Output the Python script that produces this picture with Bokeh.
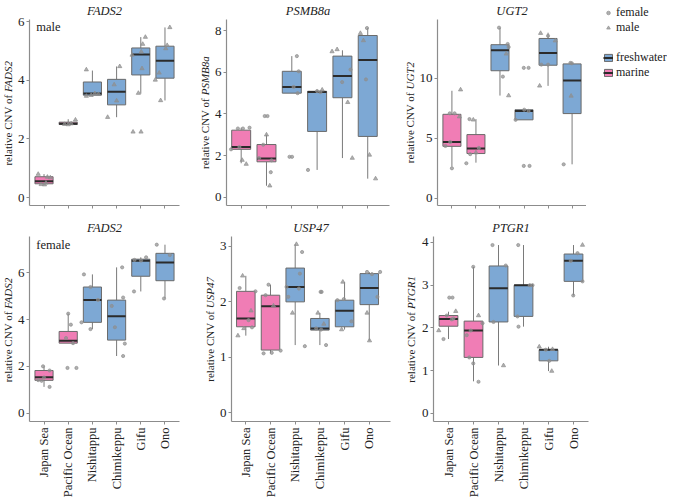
from math import pi
from bokeh.plotting import figure
from bokeh.models import ColumnDataSource, FixedTicker, Label, Legend, LegendItem, Range1d
from bokeh.layouts import column, row
from bokeh.embed import file_html
from bokeh.resources import INLINE

sites = ["Japan Sea", "Pacific Ocean", "Nishitappu", "Chimikeppu", "Gifu", "Ono"]
habitat = ["marine", "marine", "freshwater", "freshwater", "freshwater", "freshwater"]
hab_color = {"marine": "#F07DB5", "freshwater": "#7DA8D4"}

# box stats per site: (lower whisker, q1, median, q3, upper whisker)
fads2_male_box = [(0.43, 0.47, 0.56, 0.71, 0.80), (2.47, 2.49, 2.52, 2.57, 2.67),
                  (3.45, 3.49, 3.55, 3.94, 4.33), (2.74, 3.16, 3.61, 4.03, 4.47),
                  (3.54, 4.18, 4.88, 5.10, 5.47), (3.31, 4.07, 4.66, 5.16, 5.80)]
# points: (site index, jitter, value, sex)
fads2_male_pts = [(1, -0.24, 0.80, "m"), (1, -0.12, 0.45, "m"), (1, 0.02, 0.44, "m"), (1, 0.14, 0.70, "m"),
                  (1, 0.26, 0.68, "m"), (1, 0.08, 0.50, "m"),
                  (2, -0.15, 2.50, "m"), (2, 0.0, 2.49, "m"), (2, 0.12, 2.52, "m"), (2, 0.30, 2.65, "m"),
                  (3, -0.25, 4.36, "m"), (3, -0.25, 3.46, "m"), (3, -0.05, 3.49, "m"), (3, 0.25, 3.52, "m"), (3, 0.10, 3.55, "m"),
                  (4, 0.13, 4.47, "m"), (4, -0.37, 2.74, "m"), (4, 0.0, 3.30, "m"), (4, -0.10, 3.85, "m"),
                  (5, 0.19, 5.47, "m"), (5, 0.08, 5.23, "m"), (5, 0.02, 4.97, "m"), (5, -0.36, 4.86, "m"),
                  (5, 0.05, 4.40, "m"), (5, -0.10, 3.56, "m"), (5, -0.32, 2.24, "m"), (5, 0.01, 2.24, "m"),
                  (6, 0.20, 5.80, "m"), (6, 0.09, 5.19, "m"), (6, 0.03, 5.08, "m"), (6, -0.24, 4.25, "m"),
                  (6, -0.40, 4.01, "m"), (6, -0.18, 3.31, "m")]

psmb8a_box = [(1.63, 2.30, 2.41, 3.22, 3.34), (0.55, 1.70, 1.86, 2.53, 3.00),
              (5.00, 5.00, 5.30, 6.05, 6.78), (1.31, 3.16, 5.06, 5.09, 5.16),
              (1.88, 4.78, 5.83, 6.78, 7.06), (0.89, 2.92, 6.59, 7.77, 8.13)]
psmb8a_pts = [(1, -0.40, 2.30, "f"), (1, -0.07, 2.41, "f"), (1, -0.13, 3.30, "f"), (1, 0.07, 3.30, "f"),
              (1, 0.33, 3.34, "f"), (1, 0.04, 1.78, "m"), (1, 0.20, 1.59, "m"),
              (2, -0.13, 2.52, "f"), (2, -0.29, 1.88, "f"), (2, 0.20, 1.77, "f"), (2, 0.17, 1.20, "f"),
              (2, 0.13, 0.55, "m"), (2, -0.07, 3.90, "f"), (2, 0.04, 3.90, "f"), (2, 0.0, 3.00, "m"),
              (3, 0.20, 6.78, "f"), (3, 0.27, 6.05, "f"), (3, 0.07, 5.30, "f"), (3, 0.23, 5.00, "f"),
              (3, -0.09, 1.94, "f"), (3, 0.01, 1.94, "f"),
              (4, 0.0, 5.10, "f"), (4, 0.20, 5.16, "m"), (4, -0.36, 1.31, "f"), (4, 0.13, 5.05, "f"),
              (5, -0.41, 7.00, "m"), (5, -0.21, 7.10, "m"), (5, -0.01, 5.53, "f"), (5, 0.21, 4.56, "m"),
              (5, 0.32, 6.13, "f"), (5, 0.39, 1.88, "m"),
              (6, -0.03, 8.13, "f"), (6, -0.29, 7.88, "m"), (6, -0.17, 7.53, "m"), (6, -0.07, 5.66, "f"),
              (6, 0.07, 2.03, "m"), (6, 0.31, 0.89, "m")]

ugt2_box = [(2.64, 4.33, 4.69, 7.00, 8.96), (2.97, 3.73, 4.14, 5.31, 6.60),
            (8.56, 10.63, 12.34, 12.80, 14.22), (6.54, 6.54, 7.28, 7.38, 7.38),
            (9.37, 11.09, 12.10, 13.32, 13.80), (2.83, 7.06, 9.81, 11.20, 11.28)]
ugt2_pts = [(1, 0.36, 9.05, "m"), (1, -0.09, 7.08, "f"), (1, 0.11, 7.08, "f"), (1, 0.31, 6.80, "m"),
            (1, -0.27, 4.36, "f"), (1, -0.07, 4.69, "f"), (1, 0.0, 2.50, "f"),
            (2, -0.27, 6.60, "f"), (2, -0.11, 6.54, "m"), (2, -0.24, 3.68, "f"), (2, 0.0, 3.81, "m"),
            (2, 0.12, 4.20, "f"), (2, -0.40, 2.92, "f"),
            (3, -0.04, 14.22, "f"), (3, 0.32, 12.86, "f"), (3, 0.26, 12.04, "m"), (3, 0.12, 10.14, "f"),
            (3, 0.36, 8.56, "m"), (3, 0.36, 12.60, "f"),
            (4, 0.01, 7.38, "f"), (4, -0.35, 6.54, "f"), (4, 0.19, 7.28, "f"), (4, -0.01, 10.87, "f"),
            (4, 0.19, 10.87, "f"), (4, -0.01, 2.70, "f"), (4, 0.23, 2.70, "f"),
            (5, -0.31, 13.76, "m"), (5, 0.0, 13.54, "f"), (5, 0.30, 13.13, "m"), (5, -0.28, 11.14, "f"),
            (5, 0.0, 11.14, "f"), (5, -0.35, 9.37, "m"),
            (6, -0.07, 11.28, "f"), (6, -0.01, 11.25, "f"), (6, -0.04, 8.53, "m"), (6, -0.35, 2.83, "f")]

fads2_female_box = [(1.12, 1.40, 1.53, 1.82, 2.00), (2.99, 2.99, 3.09, 3.49, 4.25),
                    (3.59, 3.88, 4.84, 5.39, 5.93), (2.44, 3.12, 4.14, 4.83, 6.23),
                    (5.20, 5.85, 6.51, 6.58, 6.66), (4.90, 5.66, 6.44, 6.83, 7.20)]
fads2_female_pts = [(1, -0.04, 2.00, "f"), (1, 0.23, 1.82, "f"), (1, -0.24, 1.41, "f"), (1, 0.23, 1.12, "f"),
                    (1, 0.0, 1.52, "f"), (1, -0.10, 1.38, "f"),
                    (2, 0.0, 4.25, "f"), (2, 0.11, 3.78, "f"), (2, -0.09, 3.21, "f"), (2, 0.20, 2.99, "f"),
                    (2, -0.03, 1.93, "f"), (2, 0.34, 1.93, "f"),
                    (3, -0.35, 5.93, "f"), (3, -0.08, 5.39, "f"), (3, 0.23, 4.84, "f"), (3, -0.45, 3.88, "f"),
                    (3, -0.08, 3.59, "f"),
                    (4, 0.23, 6.23, "f"), (4, 0.27, 4.94, "f"), (4, -0.20, 4.58, "f"), (4, -0.07, 3.67, "f"),
                    (4, 0.34, 2.97, "f"), (4, 0.27, 2.44, "f"),
                    (5, 0.22, 6.66, "f"), (5, 0.01, 6.52, "f"), (5, -0.28, 5.20, "f"), (5, -0.26, 6.55, "f"),
                    (6, -0.34, 7.20, "f"), (6, 0.20, 6.76, "f"), (6, -0.04, 4.90, "f")]

usp47_box = [(1.39, 1.55, 1.70, 2.19, 2.47), (1.07, 1.13, 1.92, 2.12, 2.31),
             (1.22, 2.00, 2.27, 2.61, 3.04), (1.22, 1.49, 1.52, 1.70, 1.80),
             (1.50, 1.55, 1.84, 2.03, 2.36), (1.30, 1.95, 2.25, 2.51, 2.54)]
usp47_pts = [(1, -0.13, 2.47, "m"), (1, -0.25, 2.25, "f"), (1, 0.39, 2.19, "f"), (1, 0.21, 1.84, "m"),
             (1, 0.11, 1.67, "f"), (1, -0.08, 1.52, "m"), (1, 0.25, 1.54, "f"), (1, -0.32, 1.39, "m"),
             (2, -0.08, 2.31, "f"), (2, 0.12, 1.93, "m"), (2, -0.28, 1.07, "f"), (2, 0.05, 1.08, "f"),
             (2, 0.41, 1.12, "f"), (2, -0.20, 2.12, "f"),
             (3, 0.05, 3.04, "m"), (3, 0.28, 2.90, "f"), (3, 0.19, 2.51, "f"), (3, 0.15, 2.24, "f"),
             (3, -0.28, 2.09, "f"), (3, -0.11, 1.80, "m"), (3, 0.39, 1.20, "f"), (3, -0.35, 2.27, "f"),
             (4, 0.03, 2.18, "f"), (4, 0.07, 2.18, "f"), (4, -0.08, 1.80, "m"), (4, 0.16, 1.60, "m"),
             (4, -0.15, 1.52, "f"), (4, 0.25, 1.22, "f"), (4, 0.05, 1.50, "f"),
             (5, -0.07, 2.36, "m"), (5, -0.03, 2.05, "f"), (5, 0.28, 1.65, "f"), (5, -0.12, 1.50, "m"),
             (5, -0.29, 2.03, "f"),
             (6, -0.09, 2.54, "f"), (6, 0.44, 2.54, "f"), (6, 0.11, 2.50, "f"), (6, 0.33, 2.09, "f"),
             (6, -0.09, 1.80, "m"), (6, 0.01, 1.30, "m")]

ptgr1_box = [(1.74, 2.04, 2.21, 2.29, 2.38), (0.75, 1.31, 1.94, 2.16, 3.43),
             (1.12, 2.14, 2.93, 3.45, 3.94), (2.03, 2.27, 3.00, 3.00, 3.94),
             (0.99, 1.23, 1.49, 1.49, 1.56), (2.76, 3.09, 3.57, 3.73, 3.94)]
ptgr1_pts = [(1, 0.29, 2.39, "m"), (1, -0.07, 2.29, "f"), (1, 0.13, 2.20, "f"), (1, 0.20, 2.22, "f"),
             (1, -0.39, 1.94, "m"), (1, -0.20, 1.74, "f"), (1, 0.03, 2.71, "f"), (1, 0.16, 2.71, "f"),
             (2, -0.01, 3.43, "f"), (2, 0.20, 2.29, "m"), (2, 0.36, 2.11, "f"), (2, -0.27, 1.83, "f"),
             (2, -0.11, 1.94, "f"), (2, -0.17, 1.31, "f"), (2, -0.01, 1.17, "f"), (2, 0.20, 0.74, "f"),
             (3, -0.24, 3.94, "f"), (3, 0.29, 3.46, "f"), (3, -0.20, 2.14, "f"), (3, 0.20, 1.12, "m"),
             (4, -0.21, 3.94, "f"), (4, 0.25, 3.00, "f"), (4, 0.36, 3.00, "f"), (4, -0.24, 2.27, "f"),
             (4, -0.20, 2.03, "f"),
             (5, -0.37, 1.56, "m"), (5, 0.16, 1.50, "m"), (5, 0.03, 1.23, "f"), (5, 0.13, 0.99, "m"),
             (5, -0.11, 1.49, "f"),
             (6, 0.36, 3.94, "m"), (6, 0.16, 3.75, "f"), (6, -0.11, 3.57, "f"), (6, 0.36, 3.09, "f"),
             (6, -0.01, 2.76, "f")]

FONT = "Liberation Serif"
AX = "#8c8c8c"
TXT = "#222222"
PT = "#8f8f8f"
GENE_EM = {"FADS2": 2.944, "PSMB8a": 3.555, "UGT2": 2.5, "USP47": 2.833, "PTGR1": 3.0}
MARKERS = (("f", "circle", 3.2), ("m", "triangle", 4.2))


def bare(fig):
    fig.grid.visible = False
    fig.outline_line_color = None
    fig.background_fill_color = None
    fig.border_fill_color = None


def panel(gene, box, pts, yr, yticks, xr, left, frame_w, right, top, frame_h, bottom, show_x):
    p = figure(width=left + frame_w + right, height=top + frame_h + bottom,
               x_range=Range1d(*xr), y_range=Range1d(*yr),
               output_backend="svg", toolbar_location=None, title=gene,
               min_border_left=left, min_border_right=right,
               min_border_top=top, min_border_bottom=bottom)
    bare(p)
    p.title.text_font = FONT
    p.title.text_font_style = "italic"
    p.title.text_font_size = "12.5px"
    p.title.text_color = TXT
    p.title.align = "center"
    p.title.standoff = 3
    for ax in (p.xaxis[0], p.yaxis[0]):
        ax.axis_line_color = AX
        ax.axis_line_width = 1.2
        ax.major_tick_line_color = AX
        ax.major_tick_in = 0
        ax.major_tick_out = 3
        ax.minor_tick_line_color = None
        ax.minor_tick_out = 0
        ax.major_label_text_font = FONT
        ax.major_label_text_font_size = "12.5px"
        ax.major_label_text_color = TXT
        ax.major_label_standoff = 2
    p.yaxis.major_label_text_font_size = "13px"
    p.xaxis.major_label_standoff = 3
    p.yaxis.ticker = FixedTicker(ticks=yticks)
    p.xaxis.ticker = FixedTicker(ticks=list(range(1, len(sites) + 1)))
    p.xaxis.major_label_orientation = pi / 2
    if show_x:
        p.xaxis.major_label_overrides = {i + 1: s for i, s in enumerate(sites)}
    else:
        p.xaxis.major_label_overrides = {i + 1: "" for i in range(len(sites))}
        p.xaxis.major_label_standoff = 0

    xs = list(range(1, len(sites) + 1))
    lo, q1, med, q3, hi = (list(v) for v in zip(*box))
    src = ColumnDataSource(dict(x=xs, lo=lo, q1=q1, med=med, q3=q3, hi=hi,
                                x0=[x - 0.375 for x in xs], x1=[x + 0.375 for x in xs],
                                color=[hab_color[h] for h in habitat]))
    p.segment(x0="x", y0="lo", x1="x", y1="q1", source=src, line_color="#7a7a7a", line_width=1)
    p.segment(x0="x", y0="q3", x1="x", y1="hi", source=src, line_color="#7a7a7a", line_width=1)
    p.vbar(x="x", bottom="q1", top="q3", width=0.75, source=src,
           fill_color="color", line_color="#6a6a6a", line_width=1)
    p.segment(x0="x0", y0="med", x1="x1", y1="med", source=src,
              line_color="#2b2b2b", line_width=2)

    for sex, marker, size in MARKERS:
        sel = [t for t in pts if t[3] == sex]
        s = ColumnDataSource(dict(x=[t[0] + t[1] for t in sel], y=[t[2] for t in sel]))
        p.scatter(x="x", y="y", source=s, marker=marker, size=size,
                  fill_color=PT, line_color=PT, alpha=0.7)
    return p


def ylabel_fig(gene, yr, width, top, frame_h, bottom):
    """Narrow figure carrying the rotated y-axis title 'relative CNV of <i>gene</i>'."""
    f = figure(width=width, height=top + frame_h + bottom, x_range=Range1d(0, 1),
               y_range=Range1d(*yr), output_backend="svg", toolbar_location=None,
               x_axis_location=None, y_axis_location=None,
               min_border_left=0, min_border_right=0, min_border_top=top, min_border_bottom=bottom)
    bare(f)
    fs = 11
    ppu = frame_h / (yr[1] - yr[0])
    first = 6.443 * fs
    gap = 0.25 * fs
    second = GENE_EM[gene] * fs
    total = first + gap + second
    mid = (yr[0] + yr[1]) / 2
    split = mid + (-total / 2 + first) / ppu
    common = dict(x=0.5, angle=pi / 2, text_baseline="middle",
                  text_font=FONT, text_font_size=f"{fs}px", text_color=TXT)
    f.add_layout(Label(y=split, text="relative CNV of", text_align="right", **common))
    f.add_layout(Label(y=split + gap / ppu, text=gene, text_align="left",
                       text_font_style="italic", **common))
    return f


T_TOP, T_FRAME, T_BOT = 18, 187, 12
B_TOP, B_FRAME, B_BOT = 19, 189, 75
LAB_W = 14

yr1, yr2, yr3 = (-0.27, 6.07), (-0.4, 8.54), (-0.6, 14.9)
yr4, yr5, yr6 = (-0.36, 7.55), (-0.16, 3.18), (-0.19, 4.14)

p1 = panel("FADS2", fads2_male_box, fads2_male_pts, yr1, [0, 2, 4, 6], (0.4, 6.6),
           12, 153, 18, T_TOP, T_FRAME, T_BOT, False)
p1.add_layout(Label(x=0.68, y=5.82, text="male", text_font=FONT, text_font_size="12.5px",
                    text_color=TXT, text_baseline="middle"))
p2 = panel("PSMB8a", psmb8a_box, psmb8a_pts, yr2, [0, 2, 4, 6, 8], (0.42, 6.86),
           15, 163, 13, T_TOP, T_FRAME, T_BOT, False)
p3 = panel("UGT2", ugt2_box, ugt2_pts, yr3, [0, 5, 10], (0.4, 6.6),
           18, 152, 0, T_TOP, T_FRAME, T_BOT, False)

p4 = panel("FADS2", fads2_female_box, fads2_female_pts, yr4, [0, 2, 4, 6], (0.4, 6.6),
           12, 153, 23, B_TOP, B_FRAME, B_BOT, True)
p4.add_layout(Label(x=0.68, y=7.2, text="female", text_font=FONT, text_font_size="12.5px",
                    text_color=TXT, text_baseline="middle"))
p5 = panel("USP47", usp47_box, usp47_pts, yr5, [0, 1, 2, 3], (0.42, 6.86),
           12, 162, 13, B_TOP, B_FRAME, B_BOT, True)
p6 = panel("PTGR1", ptgr1_box, ptgr1_pts, yr6, [0, 1, 2, 3, 4], (0.4, 6.6),
           16, 155, 2, B_TOP, B_FRAME, B_BOT, True)

# legend-only figure to the right of the panels: sex legend on top, habitat legend below
LEG_W, LEG_H = 77, 80
lg_fig = figure(width=LEG_W, height=LEG_H, x_range=Range1d(0, 1), y_range=Range1d(0, 1),
                output_backend="svg", toolbar_location=None,
                x_axis_location=None, y_axis_location=None,
                min_border_left=13, min_border_right=0, min_border_top=5, min_border_bottom=0)
bare(lg_fig)
sex_items = []
for sex, marker, size in MARKERS:
    r = lg_fig.scatter(x=[0.5], y=[0.5], marker=marker, size=size,
                       fill_color=PT, line_color=PT, alpha=0.7, visible=False)
    sex_items.append(LegendItem(label="female" if sex == "f" else "male", renderers=[r]))
hab_items = []
for h in ("freshwater", "marine"):
    b = lg_fig.vbar(x=[0.5], bottom=[0.4], top=[0.6], width=0.75, fill_color=hab_color[h],
                    line_color="#6a6a6a", line_width=1, visible=False)
    m = lg_fig.segment(x0=[0.4], y0=[0.5], x1=[0.6], y1=[0.5], line_color="#2b2b2b",
                       line_width=2, visible=False)
    hab_items.append(LegendItem(label=h, renderers=[b, m]))
for items, loc in ((sex_items, "top_left"), (hab_items, "bottom_left")):
    leg = Legend(items=items, location=loc)
    leg.label_text_font = FONT
    leg.label_text_font_size = "12px"
    leg.label_text_color = TXT
    leg.glyph_width = 10
    leg.glyph_height = 9
    leg.label_height = 10
    leg.label_standoff = 3
    leg.spacing = 0
    leg.padding = 0
    leg.margin = 0
    leg.border_line_color = None
    leg.background_fill_alpha = 0
    lg_fig.add_layout(leg)

top_row = row(ylabel_fig("FADS2", yr1, LAB_W, T_TOP, T_FRAME, T_BOT), p1,
              ylabel_fig("PSMB8a", yr2, LAB_W, T_TOP, T_FRAME, T_BOT), p2,
              ylabel_fig("UGT2", yr3, LAB_W, T_TOP, T_FRAME, T_BOT), p3)
bot_row = row(ylabel_fig("FADS2", yr4, LAB_W, B_TOP, B_FRAME, B_BOT), p4,
              ylabel_fig("USP47", yr5, LAB_W, B_TOP, B_FRAME, B_BOT), p5,
              ylabel_fig("PTGR1", yr6, LAB_W, B_TOP, B_FRAME, B_BOT), p6)
layout = row(column(top_row, bot_row), lg_fig)
open("out.html", "w").write(file_html(layout, INLINE))
